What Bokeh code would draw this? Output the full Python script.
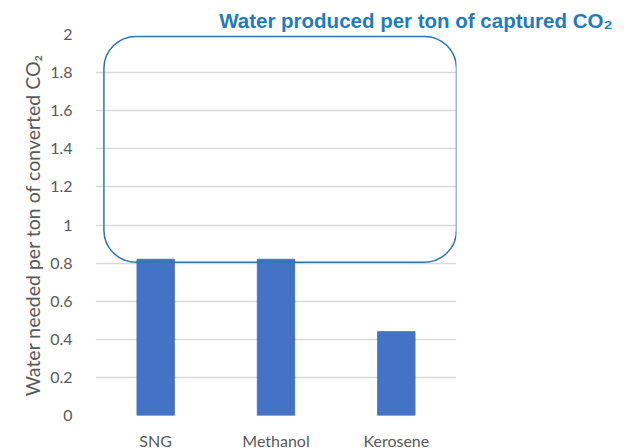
from bokeh.plotting import figure
from bokeh.models import (ColumnDataSource, BoxAnnotation, FixedTicker,
                          CustomJSTickFormatter, Range1d)
from bokeh.embed import file_html
from bokeh.resources import INLINE

# Data
fuels = ["SNG", "Methanol", "Kerosene"]
water_needed = [0.82, 0.82, 0.44]
y_ticks = [0, 0.2, 0.4, 0.6, 0.8, 1.0, 1.2, 1.4, 1.6, 1.8, 2.0]

# Callout box around the upper part of the chart (data units)
callout_bottom = 0.805
callout_top = 1.99

title_text = "Water produced per ton of captured CO\u2082"
y_label = "Water needed per ton of converted CO\u2082"

source = ColumnDataSource(data=dict(fuel=fuels, water=water_needed))

p = figure(x_range=fuels, y_range=Range1d(0, 2),
           frame_width=361, frame_height=381,
           output_backend="svg", toolbar_location=None,
           min_border_left=95, min_border_right=183,
           min_border_top=34, min_border_bottom=0)
p.outline_line_color = None
p.background_fill_color = "white"

p.vbar(x="fuel", top="water", width=0.31, source=source,
       fill_color="#4472C4", line_color="#4472C4")

# Axes
p.yaxis.ticker = FixedTicker(ticks=y_ticks)
p.yaxis.formatter = CustomJSTickFormatter(
    code="return tick.toFixed(1).replace(/\\.0$/, '');")
for ax in (p.xaxis[0], p.yaxis[0]):
    ax.axis_line_color = None
    ax.major_tick_line_color = None
    ax.minor_tick_line_color = None
    ax.major_label_text_color = "#595959"
    ax.major_label_text_font = "Lato"
    ax.major_label_text_font_size = "16px"
p.yaxis.major_label_standoff = 17
p.xaxis.major_label_standoff = 9

p.yaxis.axis_label = y_label
p.yaxis.axis_label_text_font = "Lato"
p.yaxis.axis_label_text_font_style = "normal"
p.yaxis.axis_label_text_font_size = "19.5px"
p.yaxis.axis_label_text_color = "#595959"
p.yaxis.axis_label_standoff = 3

p.xgrid.grid_line_color = None
p.ygrid.grid_line_color = "#D9D9D9"
p.ygrid.grid_line_width = 1.5

# Rounded callout
box = BoxAnnotation(bottom=callout_bottom, top=callout_top,
                    left=0.07, right=3.0,
                    fill_alpha=0, line_color="#2E75B6", line_alpha=1.0,
                    line_width=1.5, border_radius=32, level="overlay")
p.add_layout(box)

# Title sits above the frame, running past its right edge
p.title.text = title_text
p.title.align = "right"
p.title.offset = -156
p.title.text_font = "Liberation Sans"
p.title.text_font_style = "bold"
p.title.text_font_size = "20.5px"
p.title.text_color = "#1F7BC0"
p.title.standoff = 5

open("out.html", "w").write(file_html(p, INLINE))
